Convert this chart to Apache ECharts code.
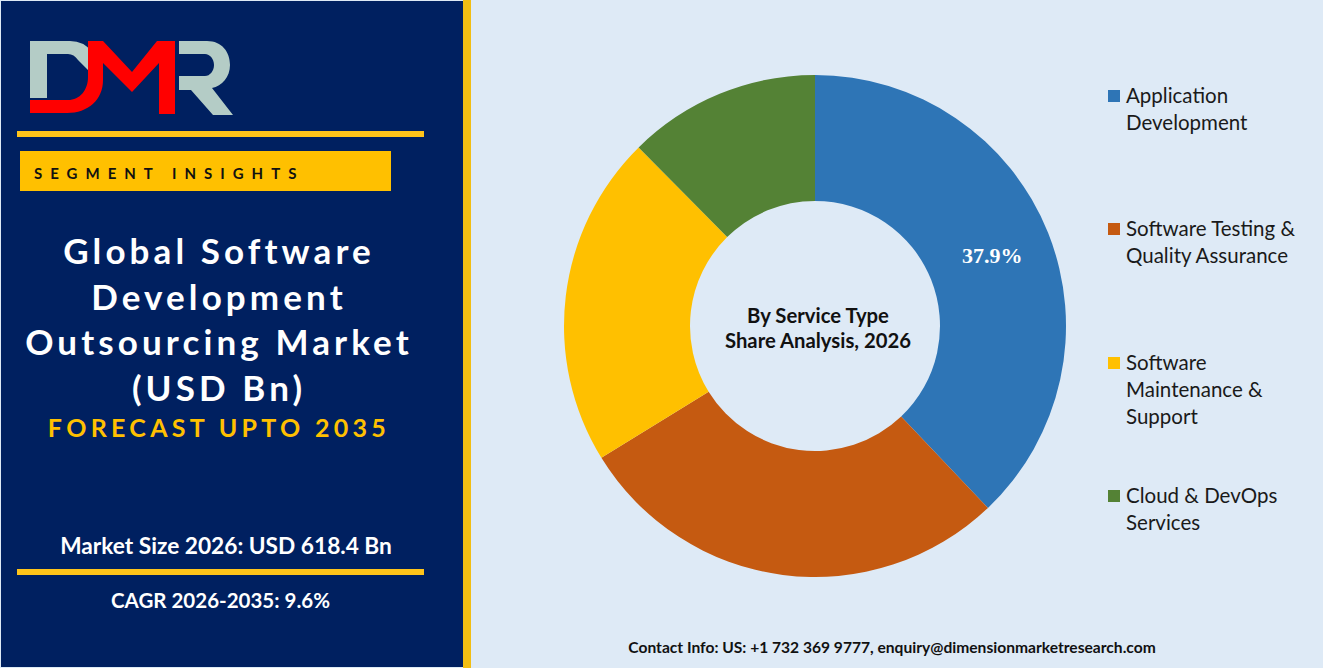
<!DOCTYPE html>
<html>
<head>
<meta charset="utf-8">
<title>Global Software Development Outsourcing Market</title>
<script src="https://cdn.jsdelivr.net/npm/echarts@6/dist/echarts.min.js"></script>
<style>
  html, body { margin: 0; padding: 0; background: #DEEAF6; }
  #main { width: 1323px; height: 668px; }
</style>
</head>
<body>
<div id="main"></div>
<script>
// data
const categories = ['Application\nDevelopment', 'Software Testing &\nQuality Assurance', 'Software\nMaintenance &\nSupport', 'Cloud & DevOps\nServices']
const shares = [37.9, 28.3, 21.4, 12.4]
const sliceColors = ['#2E75B6', '#C55A11', '#FFC000', '#548235']
const titleLines = ['Global Software', 'Development', 'Outsourcing Market', '(USD Bn)']

const NAVY = '#002060'
const GOLD = '#FFC000'
const SANS = 'Lato, sans-serif'

// letter spacing only works on the svg text nodes, so it is set after render
// keyed on font size, "Development" also shows up in the legend
const spacing = { 15: '8px', 25: '4.3px', 35: '4.1px' }

function label(text, x, y, size, color, weight, align) {
  return {
    type: 'text',
    x: x,
    y: y,
    silent: true,
    style: {
      text: text,
      fill: color,
      font: (weight || 'normal') + ' ' + size + 'px ' + SANS,
      textAlign: align || 'center',
      textVerticalAlign: 'middle'
    }
  }
}

function bar(x, y, w, h, color) {
  return { type: 'rect', silent: true, shape: { x: x, y: y, width: w, height: h }, style: { fill: color } }
}

// logo is artwork, graphic has no path type so the shapes get registered
function logoPath(name, d, color) {
  echarts.graphic.registerShape(name, echarts.graphic.extendPath(d, {}))
  return { type: name, silent: true, style: { fill: color } }
}

const elements = [
  bar(1, 1, 462, 666, NAVY),
  bar(463, 0, 8, 668, '#F2BE12'),
  logoPath('logoD', 'M30 41 H70 Q84 41 92 52 L88 70 L78 60 Q74 54 68 54 H47 V98 H30 Z', '#B4CCC6'),
  logoPath('logoR', 'M179 41 H207 C222 41 230 52 230 65 C230 77 222 86 212 88 L233 115 H213 L191 90 H179 V76 H205 C210 76 214 71 214 65 C214 59 210 54 205 54 H179 Z', '#B4CCC6'),
  logoPath('logoM', 'M30 100 H68 C80 100 88 90 88 77 V41 H103 L132 72 L157 41 H175 V114 H159 V63 L132 92 L103 63 V80 C103 100 88 113 67 113 H30 Z', '#FF0000'),
  bar(17, 131, 407, 6, '#FFC41A'),
  bar(20, 151, 371, 40, GOLD),
  label('SEGMENT INSIGHTS', 34, 173, 15, '#111111', 'bold', 'left'),
  label('FORECAST UPTO 2035', 219, 427, 25, GOLD, 'bold'),
  label('Market Size 2026: USD 618.4 Bn', 226, 545, 22.7, '#FFFFFF', 'bold'),
  bar(17, 569, 407, 6, '#FFC41A'),
  label('CAGR 2026-2035: 9.6%', 220.5, 600, 20.5, '#FFFFFF', 'bold'),
  label('By Service Type', 818, 315, 20.3, '#111111', 'bold'),
  label('Share Analysis, 2026', 818, 340, 20.3, '#111111', 'bold'),
  label('Contact Info: US: +1 732 369 9777, enquiry@dimensionmarketresearch.com', 892, 647, 15.6, '#111111', 'bold')
]

titleLines.forEach((line, i) => {
  elements.push(label(line, 219, [250, 296, 341, 387][i], 35, '#FFFFFF', 'bold'))
})

// legend text sits beside the first line of each entry, which the built-in legend can't do
const legendTops = [96, 229, 363, 496]
categories.forEach((name, i) => {
  elements.push(bar(1108, legendTops[i] - 6, 12, 12, sliceColors[i]))
  name.split('\n').forEach((line, j) => {
    elements.push(label(line, 1126, legendTops[i] - 1 + j * 27, 20.5, '#1A1A1A', 'normal', 'left'))
  })
})

const chart = echarts.init(document.getElementById('main'), null, { renderer: 'svg' })

chart.on('finished', () => {
  chart.getDom().querySelectorAll('text').forEach(node => {
    const gap = spacing[parseFloat(getComputedStyle(node).fontSize)]
    if (gap) node.style.letterSpacing = gap
  })
})

chart.setOption({
  animation: false,
  backgroundColor: '#DEEAF6',
  tooltip: { show: false },
  series: [
    {
      type: 'pie',
      center: [815, 326],
      radius: [125, 251],
      startAngle: 90,
      clockwise: true,
      silent: true,
      data: categories.map((name, i) => ({
        name: name,
        value: shares[i],
        itemStyle: { color: sliceColors[i] },
        label: { show: i === 0 }
      })),
      label: {
        position: 'inside',
        formatter: '{c}%',
        color: '#FFFFFF',
        fontFamily: '"Liberation Serif", serif',
        fontWeight: 'bold',
        fontSize: 22
      },
      labelLine: { show: false }
    }
  ],
  graphic: { elements: elements }
})
</script>
</body>
</html>
